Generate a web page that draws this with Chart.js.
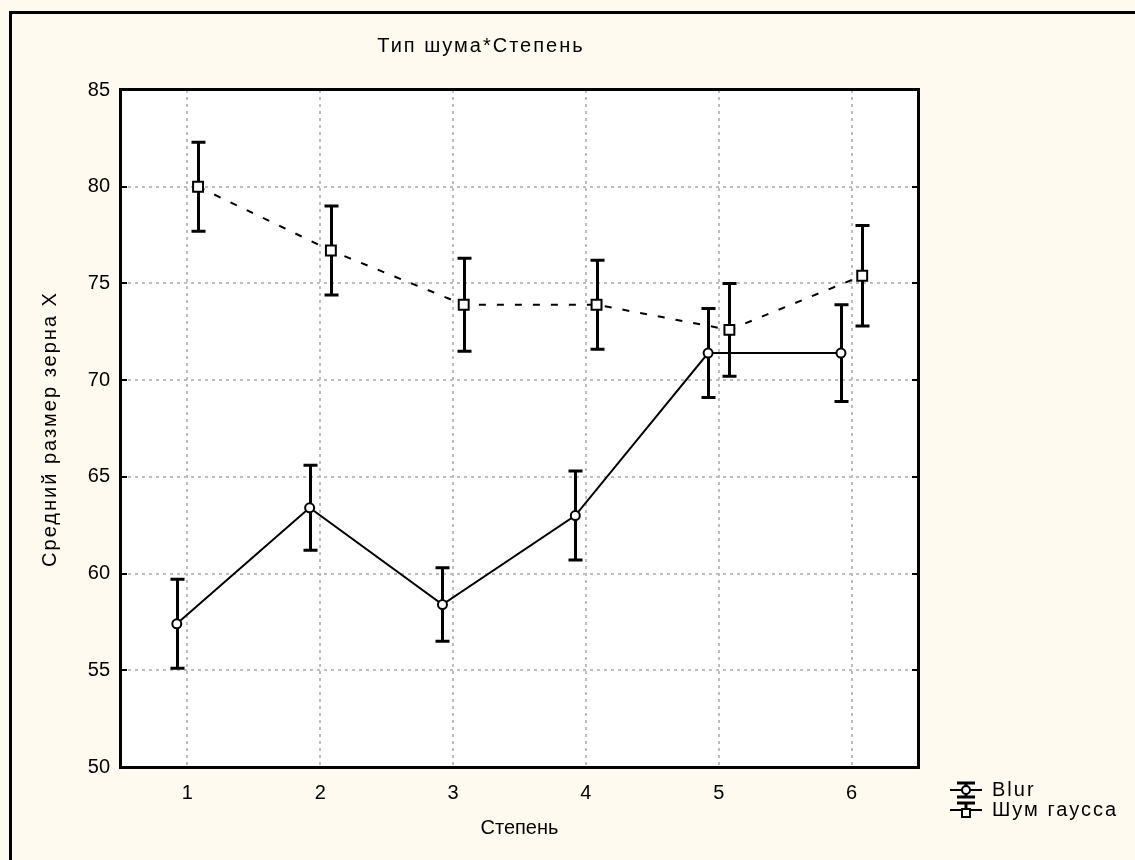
<!DOCTYPE html>
<html>
<head>
<meta charset="utf-8">
<script src="https://cdn.jsdelivr.net/npm/chart.js@4.4.1/dist/chart.umd.min.js"></script>
<style>
  html, body { margin: 0; padding: 0; background: #fffaf0; }
  #wrap { width: 1135px; height: 860px; }
</style>
</head>
<body>
<div id="wrap"><canvas id="myChart" width="1135" height="860"></canvas></div>
<script>
const ctx = document.querySelector("#myChart").getContext("2d");

// Data
const categories = [1, 2, 3, 4, 5, 6];
const blurMean = [57.4, 63.4, 58.4, 63.0, 71.4, 71.4];
const blurErr = [2.3, 2.2, 1.9, 2.3, 2.3, 2.5];
const noiseMean = [80.0, 76.7, 73.9, 73.9, 72.6, 75.4];
const noiseErr = [2.3, 2.3, 2.4, 2.3, 2.4, 2.6];
const seriesNames = ["Blur", "Шум гаусса"];
const yMin = 50, yMax = 85, yStep = 5;

const FONT = "Liberation Sans";
const shift = 0.08; // the two series sit slightly left / right of each category

const blurPoints = categories.map((c, i) => ({ x: c - shift, y: blurMean[i] }));
const noisePoints = categories.map((c, i) => ({ x: c + shift, y: noiseMean[i] }));

// background, plot fill, outer frame
const backdrop = {
    id: "backdrop",
    beforeDraw(chart) {
        const { ctx, chartArea: a } = chart;
        ctx.save();
        ctx.fillStyle = "#fffaf0";
        ctx.fillRect(0, 0, chart.width, chart.height);
        ctx.fillStyle = "#ffffff";
        ctx.fillRect(a.left, a.top, a.right - a.left, a.bottom - a.top);
        ctx.strokeStyle = "#000";
        ctx.lineWidth = 3;
        ctx.beginPath();
        ctx.moveTo(10.5, chart.height);
        ctx.lineTo(10.5, 12.5);
        ctx.lineTo(chart.width, 12.5);
        ctx.stroke();
        ctx.restore();
    }
};

// error bars, drawn through the scales
const errorBars = {
    id: "errorBars",
    beforeDatasetsDraw(chart) {
        const { ctx, scales: { x, y } } = chart;
        const sets = [[blurPoints, blurErr], [noisePoints, noiseErr]];
        ctx.save();
        ctx.strokeStyle = "#000";
        ctx.lineWidth = 3;
        sets.forEach(([pts, err]) => {
            pts.forEach((p, i) => {
                const px = Math.round(x.getPixelForValue(p.x)) + 0.5;
                const top = y.getPixelForValue(p.y + err[i]);
                const bot = y.getPixelForValue(p.y - err[i]);
                ctx.beginPath();
                ctx.moveTo(px, top);
                ctx.lineTo(px, bot);
                ctx.moveTo(px - 7, top);
                ctx.lineTo(px + 7, top);
                ctx.moveTo(px - 7, bot);
                ctx.lineTo(px + 7, bot);
                ctx.stroke();
            });
        });
        ctx.restore();
    }
};

// plot frame, small inner ticks, titles and legend
const decorations = {
    id: "decorations",
    afterDraw(chart) {
        const { ctx, chartArea: a, scales: { y } } = chart;
        ctx.save();
        ctx.strokeStyle = "#000";
        ctx.lineWidth = 3;
        ctx.strokeRect(a.left - 0.5, a.top - 0.5, a.right - a.left + 1, a.bottom - a.top + 1);

        ctx.lineWidth = 2;
        for (let v = yMin + yStep; v < yMax; v += yStep) {
            const py = Math.round(y.getPixelForValue(v));
            ctx.beginPath();
            ctx.moveTo(a.left, py);
            ctx.lineTo(a.left + 6, py);
            ctx.moveTo(a.right, py);
            ctx.lineTo(a.right - 6, py);
            ctx.stroke();
        }

        ctx.fillStyle = "#000";
        ctx.font = "20px '" + FONT + "'";
        ctx.letterSpacing = "2px";
        ctx.textBaseline = "middle";
        ctx.textAlign = "center";
        ctx.fillText("Тип шума*Степень", 481, 46);

        // y axis title
        ctx.save();
        ctx.translate(50, 429);
        ctx.rotate(-Math.PI / 2);
        ctx.fillText("Средний размер зерна X", 0, 0);
        ctx.restore();

        // legend
        ctx.textAlign = "left";
        const rows = [790, 810];
        rows.forEach((ly, k) => {
            const cx = 966;
            ctx.lineWidth = 2;
            ctx.beginPath();
            ctx.moveTo(950, ly);
            ctx.lineTo(982, ly);
            ctx.stroke();
            ctx.lineWidth = 3;
            ctx.beginPath();
            ctx.moveTo(cx, ly - 7);
            ctx.lineTo(cx, ly + 7);
            ctx.moveTo(cx - 9, ly - 7);
            ctx.lineTo(cx + 9, ly - 7);
            if (k === 0) {
                ctx.moveTo(cx - 9, ly + 7);
                ctx.lineTo(cx + 9, ly + 7);
            }
            ctx.stroke();
            ctx.lineWidth = 2;
            ctx.fillStyle = "#fff";
            ctx.beginPath();
            if (k === 0) {
                ctx.arc(cx, ly, 4, 0, Math.PI * 2);
            } else {
                ctx.rect(cx - 4, ly - 1, 8, 8);
            }
            ctx.fill();
            ctx.stroke();
            ctx.fillStyle = "#000";
            ctx.fillText(seriesNames[k], 992, ly);
        });
        ctx.restore();
    }
};

const data = {
    datasets: [{
        label: seriesNames[0],
        data: blurPoints,
        borderColor: "#000",
        borderWidth: 2,
        pointStyle: "circle",
        pointRadius: 4.5,
        pointBorderWidth: 2,
        pointBackgroundColor: "#fff",
        pointBorderColor: "#000",
        tension: 0,
    }, {
        label: seriesNames[1],
        data: noisePoints,
        borderColor: "#000",
        borderWidth: 2,
        borderDash: [7, 11],
        pointStyle: "rect",
        pointRadius: 7,
        pointBorderWidth: 2,
        pointBackgroundColor: "#fff",
        pointBorderColor: "#000",
        tension: 0,
    }]
};

const gridStyle = {
    color: "#bdbdbd",
    lineWidth: 2,
    drawTicks: false,
};

const config = {
    type: "line",
    data: data,
    plugins: [backdrop, errorBars, decorations],
    options: {
        responsive: false,
        animation: false,
        devicePixelRatio: 1,
        layout: { padding: { top: 90, right: 217, left: 0, bottom: 0 } },
        plugins: {
            legend: { display: false },
            title: { display: false },
            tooltip: { enabled: false },
        },
        scales: {
            x: {
                type: "linear",
                min: 0.5,
                max: 6.5,
                afterBuildTicks: (scale) => {
                    scale.ticks = categories.map((c) => ({ value: c }));
                },
                afterFit: (scale) => { scale.height = 93; },
                grid: gridStyle,
                border: { display: false, dash: [3, 4] },
                ticks: {
                    padding: 14,
                    color: "#000",
                    font: { family: FONT, size: 20 },
                    callback: (v) => String(v),
                },
                title: {
                    display: true,
                    text: "Степень",
                    color: "#000",
                    font: { family: FONT, size: 20 },
                    padding: { top: 0, bottom: 20 },
                },
            },
            y: {
                min: yMin,
                max: yMax,
                afterFit: (scale) => { scale.width = 121; },
                grid: gridStyle,
                border: { display: false, dash: [3, 4] },
                ticks: {
                    stepSize: yStep,
                    padding: 11,
                    color: "#000",
                    font: { family: FONT, size: 20 },
                },
            }
        }
    }
};

const myChart = new Chart(ctx, config);
</script>
</body>
</html>
